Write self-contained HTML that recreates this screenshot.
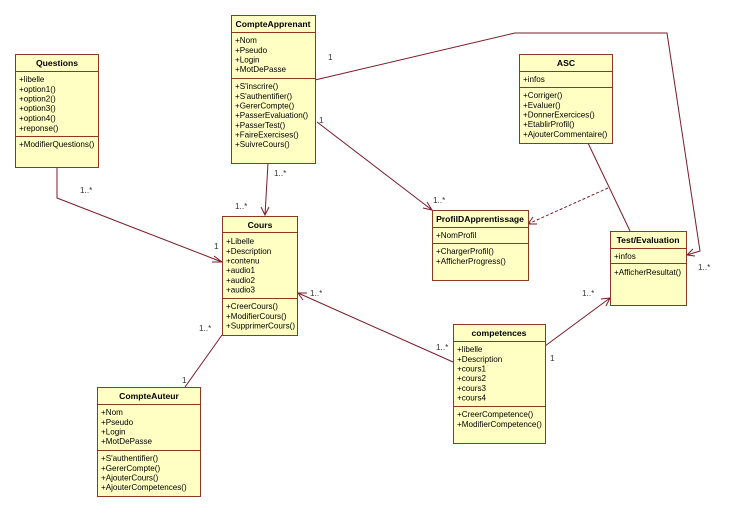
<!DOCTYPE html>
<html><head><meta charset="utf-8"><style>
body{margin:0;background:#fff;}
svg{display:block;}
text{font-family:"Liberation Sans","DejaVu Sans",sans-serif;font-size:8.1px;fill:#000;}
.t{font-weight:bold;font-size:8.6px;text-anchor:middle;}
.b{fill:#ffffc4;stroke:#8a3a22;stroke-width:1;}
.s{stroke:#8a3a22;stroke-width:1;}
.l{fill:none;stroke:#7a1c28;stroke-width:1;}
.m{font-size:8.2px;fill:#333;}
</style></head><body>
<svg width="731" height="511" viewBox="0 0 731 511">
<polyline class="l" points="57,167 57,198 222,262"/>
<polyline class="l" points="214,256 222,262 212,262"/>
<polyline class="l" points="268,163 265,215"/>
<polyline class="l" points="261,207 265,215 269,207"/>
<polyline class="l" points="315,80 515,33 667,33 700,251 687,255"/>
<polyline class="l" points="693,249 687,255 695,256"/>
<polyline class="l" points="317,122 432,210"/>
<polyline class="l" points="423,208 432,210 427,202"/>
<polyline class="l" points="588,143 630,231"/>
<polyline class="l" points="608,188 528,224" stroke-dasharray="3,2"/>
<polyline class="l" points="533,217 528,224 537,224"/>
<polyline class="l" points="453,362 298,293"/>
<polyline class="l" points="303,300 298,293 307,293"/>
<polyline class="l" points="545,346 610,298"/>
<polyline class="l" points="601,299 610,298 606,306"/>
<polyline class="l" points="222,335 185,387"/>
<text class="m" x="80" y="193">1..*</text>
<text class="m" x="214" y="249">1</text>
<text class="m" x="274" y="176">1..*</text>
<text class="m" x="235" y="209">1..*</text>
<text class="m" x="328" y="60">1</text>
<text class="m" x="698" y="270">1..*</text>
<text class="m" x="319" y="123">1</text>
<text class="m" x="433" y="203">1..*</text>
<text class="m" x="310" y="296">1..*</text>
<text class="m" x="436" y="350">1..*</text>
<text class="m" x="582" y="296">1..*</text>
<text class="m" x="550" y="361">1</text>
<text class="m" x="199" y="331">1..*</text>
<text class="m" x="182" y="383">1</text>

<rect class="b" x="15.5" y="54.5" width="83" height="113"/>
<line class="s" x1="15.5" y1="71.5" x2="98.5" y2="71.5"/>
<line class="s" x1="15.5" y1="136.5" x2="98.5" y2="136.5"/>
<text class="t" x="57" y="66">Questions</text>
<text x="19" y="82">+libelle</text><text x="19" y="92">+option1()</text><text x="19" y="101.5">+option2()</text><text x="19" y="111">+option3()</text><text x="19" y="121">+option4()</text><text x="19" y="131">+reponse()</text>
<text x="19" y="147">+ModifierQuestions()</text>

<rect class="b" x="231.5" y="15.5" width="84" height="148"/>
<line class="s" x1="231.5" y1="32.5" x2="315.5" y2="32.5"/>
<line class="s" x1="231.5" y1="78.5" x2="315.5" y2="78.5"/>
<text class="t" x="273" y="27">CompteApprenant</text>
<text x="235" y="43">+Nom</text><text x="235" y="53">+Pseudo</text><text x="235" y="62.5">+Login</text><text x="235" y="72">+MotDePasse</text>
<text x="235" y="89">+S'inscrire()</text><text x="235" y="99">+S'authentifier()</text><text x="235" y="108.5">+GererCompte()</text><text x="235" y="118">+PasserEvaluation()</text><text x="235" y="128">+PasserTest()</text><text x="235" y="137.5">+FaireExercises()</text><text x="235" y="147">+SuivreCours()</text>

<rect class="b" x="222.5" y="216.5" width="75" height="119"/>
<line class="s" x1="222.5" y1="232.5" x2="297.5" y2="232.5"/>
<line class="s" x1="222.5" y1="298.5" x2="297.5" y2="298.5"/>
<text class="t" x="260" y="228">Cours</text>
<text x="226" y="244">+Libelle</text><text x="226" y="254">+Description</text><text x="226" y="263.5">+contenu</text><text x="226" y="273">+audio1</text><text x="226" y="283">+audio2</text><text x="226" y="292.5">+audio3</text>
<text x="226" y="309">+CreerCours()</text><text x="226" y="319">+ModifierCours()</text><text x="226" y="328.5">+SupprimerCours()</text>

<rect class="b" x="519.5" y="54.5" width="93" height="89"/>
<line class="s" x1="519.5" y1="71.5" x2="612.5" y2="71.5"/>
<line class="s" x1="519.5" y1="87.5" x2="612.5" y2="87.5"/>
<text class="t" x="566" y="66">ASC</text>
<text x="523" y="82">+infos</text>
<text x="523" y="98">+Corriger()</text><text x="523" y="108">+Evaluer()</text><text x="523" y="117.5">+DonnerExercices()</text><text x="523" y="127">+EtablirProfil()</text><text x="523" y="137">+AjouterCommentaire()</text>

<rect class="b" x="432.5" y="210.5" width="96" height="70"/>
<line class="s" x1="432.5" y1="227.5" x2="528.5" y2="227.5"/>
<line class="s" x1="432.5" y1="243.5" x2="528.5" y2="243.5"/>
<text class="t" x="480" y="222">ProfilDApprentissage</text>
<text x="436" y="238">+NomProfil</text>
<text x="436" y="254">+ChargerProfil()</text><text x="436" y="264">+AfficherProgress()</text>

<rect class="b" x="610.5" y="231.5" width="76" height="74"/>
<line class="s" x1="610.5" y1="248.5" x2="686.5" y2="248.5"/>
<line class="s" x1="610.5" y1="263.5" x2="686.5" y2="263.5"/>
<text class="t" x="648" y="243">Test/Evaluation</text>
<text x="614" y="259">+infos</text>
<text x="614" y="275">+AfficherResultat()</text>

<rect class="b" x="453.5" y="324.5" width="92" height="119"/>
<line class="s" x1="453.5" y1="341.5" x2="545.5" y2="341.5"/>
<line class="s" x1="453.5" y1="406.5" x2="545.5" y2="406.5"/>
<text class="t" x="499" y="336">competences</text>
<text x="457" y="352">+libelle</text><text x="457" y="362">+Description</text><text x="457" y="371.5">+cours1</text><text x="457" y="381">+cours2</text><text x="457" y="391">+cours3</text><text x="457" y="400.5">+cours4</text>
<text x="457" y="417">+CreerCompetence()</text><text x="457" y="427">+ModifierCompetence()</text>

<rect class="b" x="97.5" y="387.5" width="103" height="109"/>
<line class="s" x1="97.5" y1="404.5" x2="200.5" y2="404.5"/>
<line class="s" x1="97.5" y1="450.5" x2="200.5" y2="450.5"/>
<text class="t" x="149" y="399">CompteAuteur</text>
<text x="101" y="415">+Nom</text><text x="101" y="425">+Pseudo</text><text x="101" y="434.5">+Login</text><text x="101" y="444">+MotDePasse</text>
<text x="101" y="461">+S'authentifier()</text><text x="101" y="471">+GererCompte()</text><text x="101" y="480.5">+AjouterCours()</text><text x="101" y="490">+AjouterCompetences()</text>
</svg>
</body></html>
